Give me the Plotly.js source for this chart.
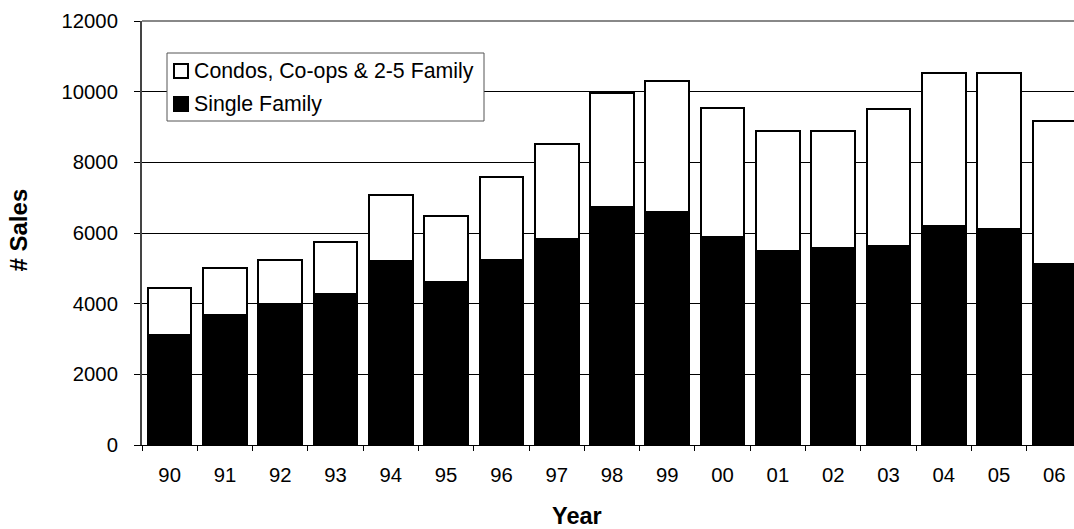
<!DOCTYPE html>
<html>
<head>
<meta charset="utf-8">
<script src="https://cdn.plot.ly/plotly-3.0.1.min.js"></script>
<style>html,body{margin:0;padding:0;background:#fff;}#chart{width:1074px;height:529px;}</style>
</head>
<body>
<div id="chart"></div>
<script>
const years = ["90","91","92","93","94","95","96","97","98","99","00","01","02","03","04","05","06"];
const singleFamily = [3100, 3690, 3980, 4280, 5220, 4600, 5240, 5820, 6740, 6590, 5890, 5480, 5580, 5640, 6190, 6100, 5110];
const condosCoops = [1330, 1310, 1270, 1470, 1860, 1870, 2350, 2690, 3230, 3720, 3650, 3400, 3300, 3880, 4330, 4440, 4050];
const yTicks = [0, 2000, 4000, 6000, 8000, 10000, 12000];
const seriesNames = ["Single Family", "Condos, Co-ops & 2-5 Family"];
const xTitle = "Year";
const yTitle = "# Sales";

const font = "Liberation Sans, Arial, sans-serif";
const W = 1074, H = 529, L = 142, R = 0, T = 21, B = 84;
const px = v => (v - L) / (W - L - R);       // pixel -> paper x
const py = v => (H - B - v) / (H - T - B);   // pixel -> paper y

const traces = [
  {type: "bar", name: seriesNames[0], x: years, y: singleFamily, showlegend: false,
   marker: {color: "#000000", line: {color: "#000000", width: 2}}},
  {type: "bar", name: seriesNames[1], x: years, y: condosCoops, showlegend: false,
   marker: {color: "#ffffff", line: {color: "#000000", width: 2}}}
];

// custom legend (box, swatches, labels)
const legendShapes = [
  {type: "rect", xref: "paper", yref: "paper", x0: px(167), x1: px(484), y0: py(121), y1: py(53),
   fillcolor: "#ffffff", line: {color: "#555", width: 1}, layer: "above"},
  {type: "rect", xref: "paper", yref: "paper", x0: px(174), x1: px(188), y0: py(78), y1: py(64),
   fillcolor: "#ffffff", line: {color: "#000", width: 2}, layer: "above"},
  {type: "rect", xref: "paper", yref: "paper", x0: px(174), x1: px(188), y0: py(111), y1: py(97),
   fillcolor: "#000000", line: {color: "#000", width: 2}, layer: "above"}
];
const textAnnotations = [
  {xref: "paper", yref: "paper", x: px(192), y: py(71), xanchor: "left", yanchor: "middle",
   text: seriesNames[1], showarrow: false, font: {family: font, size: 21.3, color: "#000"}},
  {xref: "paper", yref: "paper", x: px(192), y: py(104), xanchor: "left", yanchor: "middle",
   text: seriesNames[0], showarrow: false, font: {family: font, size: 21.3, color: "#000"}},
  {xref: "paper", yref: "paper", x: px(577), y: py(516), xanchor: "center", yanchor: "middle",
   text: "<b>" + xTitle + "</b>", showarrow: false, font: {family: font, size: 23.5, color: "#000"}},
  {xref: "paper", yref: "paper", x: px(17.5), y: py(230), xanchor: "center", yanchor: "middle",
   textangle: -90, text: "<b>" + yTitle + "</b>", showarrow: false,
   font: {family: font, size: 24, color: "#000"}}
];

const layout = {
  width: W, height: H,
  margin: {l: L, r: R, t: T, b: B, pad: 0},
  barmode: "stack", bargap: 0.21,
  paper_bgcolor: "#ffffff", plot_bgcolor: "#ffffff",
  font: {family: font, size: 20, color: "#000"},
  showlegend: false,
  xaxis: {type: "category", range: [-0.5, 16.355], tickson: "boundaries",
          ticks: "outside", ticklen: 5, tickcolor: "#000", tickwidth: 1,
          showline: true, linecolor: "#000", linewidth: 1, showgrid: false,
          tickfont: {family: font, size: 20.3}, ticklabelstandoff: 12, fixedrange: true},
  yaxis: {range: [0, 12000], tickvals: yTicks, ticktext: yTicks.map(String),
          ticks: "outside", ticklen: 6, tickcolor: "#000", tickwidth: 1,
          showline: true, linecolor: "#444", linewidth: 2,
          showgrid: true, gridcolor: "#000", gridwidth: 1, zeroline: false,
          tickfont: {family: font, size: 20.3}, ticklabelstandoff: 12},
  shapes: [{type: "line", xref: "paper", yref: "paper", x0: 0, x1: 1, y0: 1, y1: 1,
            line: {color: "#888", width: 2}}].concat(legendShapes),
  annotations: textAnnotations
};
Plotly.newPlot("chart", traces, layout, {displayModeBar: false, staticPlot: true});
</script>
</body>
</html>
